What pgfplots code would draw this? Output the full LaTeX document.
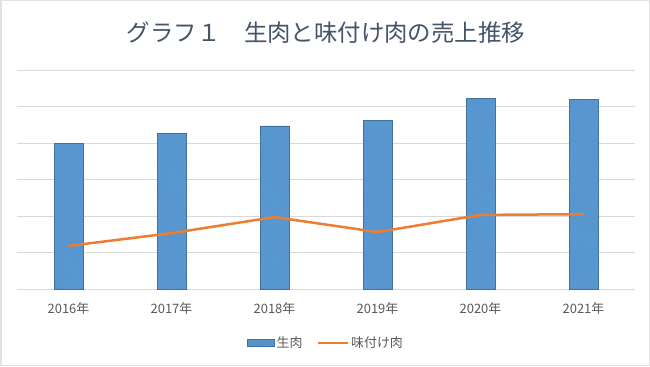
\documentclass[border=0pt]{standalone}
\usepackage{pgfplots}
\pgfplotsset{compat=1.18}
\usepackage{fontspec}
\setmainfont{Liberation Sans}
\newfontfamily\cjk{Noto Sans CJK JP}
\usetikzlibrary{patterns}
\definecolor{barblue}{HTML}{5B9BD5}
\definecolor{baredge}{HTML}{41719C}
\definecolor{lineorange}{HTML}{ED7D31}
\definecolor{gridgray}{HTML}{D9D9D9}
\definecolor{titlecol}{HTML}{44546A}
\definecolor{txtgray}{HTML}{595959}
\colorlet{hatch}{barblue!65!baredge}
\begin{document}
\begin{tikzpicture}[x=1bp,y=1bp]
\fill[white] (0,0) rectangle (650,366);
\draw[gridgray!80, line width=1.5bp] (0.75,0.75) rectangle (649.25,365.25);
\node[text=titlecol, font=\cjk\fontsize{23.5}{26}\selectfont] at (326,333) {グラフ１　生肉と味付け肉の売上推移};
\begin{axis}[
  at={(17bp,77bp)}, anchor=south west,
  scale only axis, width=618bp, height=219bp,
  xmin=-0.5, xmax=5.5, ymin=0, ymax=6,
  xtick={0,1,2,3,4,5},
  xticklabels={2016年,2017年,2018年,2019年,2020年,2021年},
  ytick={0,1,2,3,4,5,6}, yticklabels={},
  ymajorgrids, major grid style={gridgray, line width=0.75bp},
  axis line style={draw=none},
  axis x line*=bottom,
  x axis line style={gridgray, line width=0.9bp},
  tick style={draw=none},
  ticklabel style={text=txtgray, font=\cjk\fontsize{13}{15}\selectfont},
  xticklabel style={yshift=-10bp},
  legend style={at={(0.5,-0.2)}, anchor=north, draw=none, legend columns=2,
    font=\cjk\fontsize{13}{15}\selectfont, text=txtgray,
    /tikz/every even column/.append style={column sep=12bp}},
]
\addplot[ybar, bar width=29bp, fill=barblue, draw=baredge, line width=0.6bp,
  postaction={pattern=north west lines, pattern color=hatch},
  legend image code/.code={\draw[fill=barblue, draw=baredge, postaction={pattern=north west lines, pattern color=hatch}] (0bp,-3.5bp) rectangle (27bp,4bp);}]
  coordinates {(0,4.00) (1,4.27) (2,4.47) (3,4.63) (4,5.23) (5,5.20)};
\addlegendentry{生肉}
\addplot[lineorange, line width=2.5bp, mark=none,
  legend image code/.code={\draw[lineorange, line width=2.5bp] (0bp,0bp) -- (30bp,0bp);}]
  coordinates {(0,1.18) (1,1.53) (2,1.97) (3,1.56) (4,2.03) (5,2.05)};
\addlegendentry{味付け肉}
\end{axis}
\end{tikzpicture}
\end{document}
